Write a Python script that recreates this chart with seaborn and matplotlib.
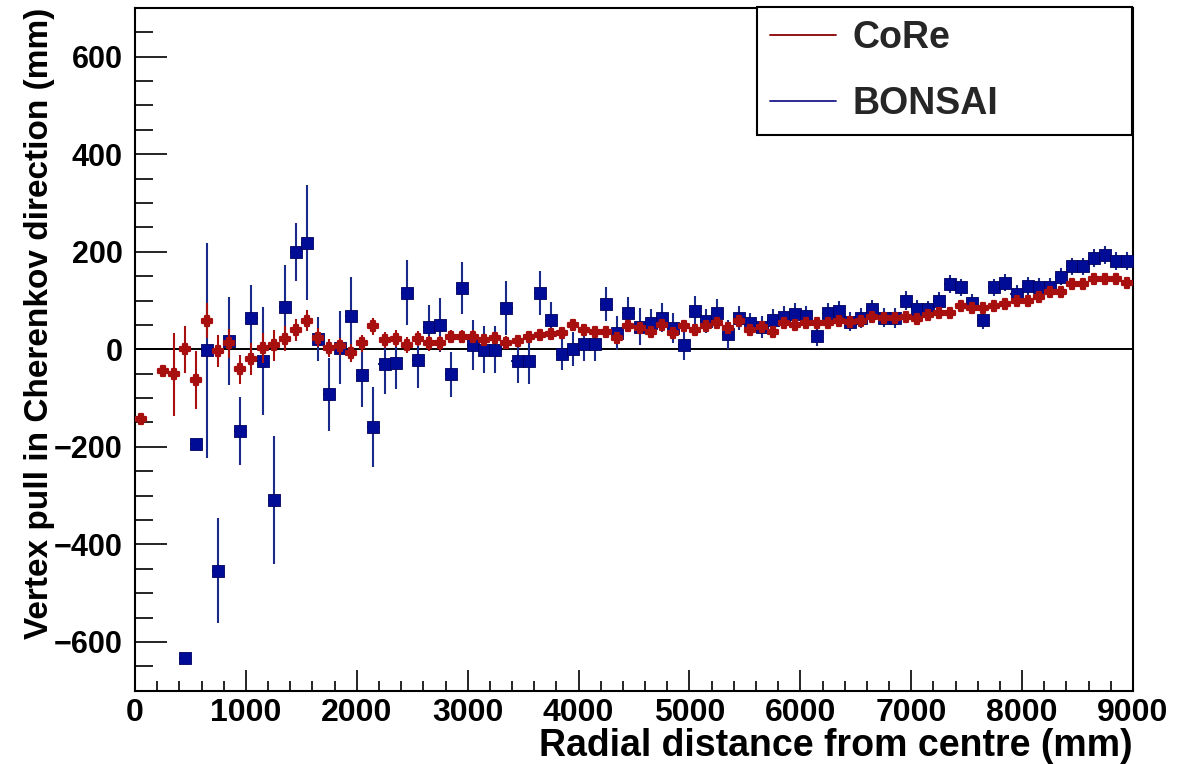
import numpy as np
import pandas as pd
import matplotlib
matplotlib.use("Agg")
import matplotlib.pyplot as plt
from matplotlib.lines import Line2D
from matplotlib.ticker import MultipleLocator
import seaborn as sns

# bin centres (mm)
radius = np.arange(50, 9000, 100)

core_pull = [
    -143, np.nan, -44, -51, 0, -63, 59, -3, 12, -41,
    -19, 3, 8, 22, 40, 59, 24, 3, 6, -8,
    12, 47, 19, 22, 9, 22, 12, 12, 26, 26,
    26, 19, 23, 14, 18, 26, 29, 31, 34, 49,
    40, 36, 36, 23, 48, 43, 36, 49, 33, 48,
    40, 48, 55, 44, 59, 40, 46, 36, 55, 49,
    55, 55, 55, 59, 57, 58, 67, 65, 65, 67,
    62, 70, 74, 74, 89, 84, 84, 89, 93, 100,
    100, 108, 117, 117, 133, 133, 144, 144, 144, 137,
]
core_err = [
    8, np.nan, 8, 85, 48, 60, 35, 33, 30, 30,
    33, 30, 32, 25, 22, 22, 20, 18, 18, 18,
    18, 18, 17, 17, 16, 16, 15, 15, 14, 14,
    14, 13, 13, 13, 12, 12, 12, 12, 12, 11,
    11, 11, 11, 11, 10, 10, 10, 10, 10, 10,
    9, 9, 9, 9, 9, 9, 9, 9, 8, 8,
    8, 8, 8, 8, 8, 8, 8, 8, 8, 8,
    8, 8, 8, 8, 8, 8, 8, 8, 8, 8,
    8, 8, 8, 8, 8, 8, 8, 8, 8, 8,
]

bonsai_pull = [
    np.nan, np.nan, np.nan, np.nan, -632, -194, -2, -454, 17, -168,
    64, -24, -309, 86, 200, 219, 22, -92, 3, 68,
    -53, -160, -31, -27, 116, -21, 46, 50, -51, 126,
    9, -1, -1, 85, -24, -24, 115, 60, -10, 1,
    10, 10, 93, 33, 75, 46, 55, 65, 44, 9,
    79, 58, 75, 31, 64, 53, 46, 60, 67, 72,
    69, 27, 75, 79, 57, 64, 82, 65, 64, 100,
    83, 82, 99, 134, 127, 96, 60, 127, 137, 113,
    130, 128, 128, 149, 170, 170, 187, 193, 181, 181,
]
bonsai_err = [
    np.nan, np.nan, np.nan, np.nan, 8, 10, 220, 108, 90, 70,
    67, 110, 131, 87, 60, 117, 45, 75, 75, 80,
    65, 82, 60, 55, 67, 58, 45, 55, 46, 54,
    52, 48, 48, 55, 46, 48, 45, 38, 33, 35,
    33, 33, 35, 35, 33, 38, 28, 30, 30, 30,
    30, 25, 28, 30, 25, 22, 22, 22, 22, 22,
    20, 20, 20, 20, 20, 20, 20, 20, 20, 20,
    18, 18, 18, 18, 18, 18, 18, 18, 18, 18,
    18, 18, 18, 18, 18, 18, 18, 18, 18, 18,
]

core_color = "#a80f0f"
bonsai_color = "#000c96"

sns.set_style("white")
plt.rcParams["font.family"] = ["Liberation Sans", "DejaVu Sans"]
plt.rcParams["font.weight"] = "bold"

df = pd.DataFrame({
    "radius": radius,
    "core": core_pull, "core_err": core_err,
    "bonsai": bonsai_pull, "bonsai_err": bonsai_err,
})

fig = plt.figure(figsize=(11.94, 7.64), dpi=100)
ax = fig.add_axes([0.1131, 0.0959, 0.8358, 0.8937])

ax.axhline(0, color="black", lw=1.4, zorder=1)

ax.errorbar(df.radius, df.bonsai, yerr=df.bonsai_err, xerr=55, fmt="none",
            ecolor="#1a2a8a", elinewidth=1.5, capsize=0, zorder=2)
sns.scatterplot(x="radius", y="bonsai", data=df, marker="s", s=78,
                color=bonsai_color, edgecolor="#000060", linewidth=0.6,
                ax=ax, zorder=3)
ax.errorbar(df.radius, df.core, yerr=df.core_err, xerr=50, fmt="none",
            ecolor=core_color, elinewidth=1.5, capsize=0, zorder=4)
sns.scatterplot(x="radius", y="core", data=df, marker="P", s=60,
                color=core_color, edgecolor=core_color, linewidth=1.6,
                ax=ax, zorder=5)

ax.set_xlim(0, 9000)
ax.set_ylim(-700, 700)
ax.xaxis.set_major_locator(MultipleLocator(1000))
ax.xaxis.set_minor_locator(MultipleLocator(200))
ax.yaxis.set_major_locator(MultipleLocator(200))
ax.yaxis.set_minor_locator(MultipleLocator(50))
ax.tick_params(bottom=True, left=True, top=False, right=False, which="both")
ax.tick_params(axis="x", which="major", direction="in", length=15, width=1.2,
               labelsize=23, pad=5, color="black")
ax.tick_params(axis="x", which="minor", direction="in", length=7.5, width=1.2,
               color="black")
ax.tick_params(axis="y", which="major", direction="in", length=23, width=1.2,
               labelsize=22, pad=9, color="black")
ax.tick_params(axis="y", which="minor", direction="in", length=13, width=1.2,
               color="black")
for lab in ax.get_xticklabels() + ax.get_yticklabels():
    lab.set_fontweight("bold")
    lab.set_color("black")
for sp in ax.spines.values():
    sp.set_color("black")
    sp.set_linewidth(1.5)

ax.set_xlabel("Radial distance from centre (mm)", fontsize=27,
              fontweight="bold", loc="right", labelpad=0.5, color="black")
ax.set_ylabel("Vertex pull in Cherenkov direction (mm)", fontsize=24,
              fontweight="bold", loc="top", labelpad=-1, color="black")

handles = [Line2D([], [], color="#8a0000", lw=1.3),
           Line2D([], [], color="#1a1a8a", lw=1.3)]
leg = fig.legend(handles, ["CoRe", "BONSAI"], loc="upper left",
                 bbox_to_anchor=(757 / 1194, 1 - 7 / 764, 375 / 1194, 0),
                 mode="expand", prop={"size": 27, "weight": "bold"},
                 frameon=True, fancybox=False, framealpha=1,
                 edgecolor="black", borderaxespad=0, borderpad=0.35,
                 handlelength=1.75, handletextpad=0.45, labelspacing=0.8)
leg.get_frame().set_linewidth(1.5)

fig.savefig("out.png", dpi=100)
